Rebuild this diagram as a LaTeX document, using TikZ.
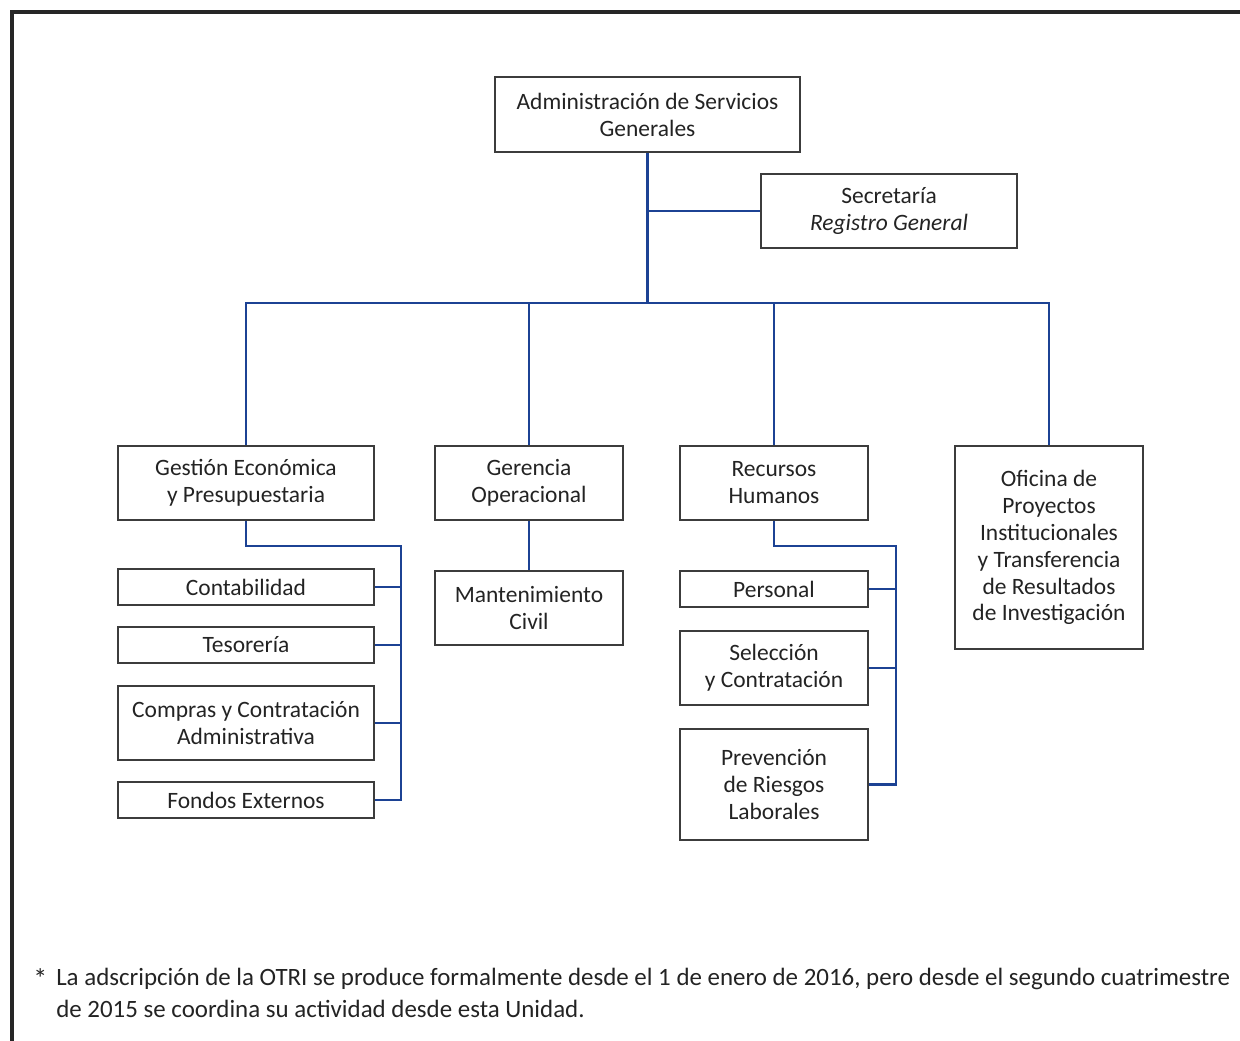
\documentclass[tikz,border=0pt]{standalone}
\usepackage{fontspec}
\setmainfont{Carlito}
\definecolor{linkblue}{RGB}{28,66,148}
\definecolor{boxgray}{RGB}{60,60,60}
\definecolor{txt}{RGB}{35,35,35}
\begin{document}
\begin{tikzpicture}[x=0.75pt,y=-0.75pt,
  box/.style={draw=boxgray,line width=1.1pt,inner sep=0pt,align=center,text=txt,
    font=\fontsize{17.6}{20.2}\selectfont},
  w256/.style={minimum width=192pt},
  w188/.style={minimum width=141pt},
  h36/.style={minimum height=27pt},
  h74/.style={minimum height=55.5pt},
  conn/.style={draw=linkblue,line width=2.2pt}]
\useasboundingbox (0,0) rectangle (1240,1040);
\draw[line width=2.3pt,color=black!85] (12,1045) -- (12,12) -- (1245,12);

\node[box,minimum width=228.75pt,minimum height=56.25pt] (asg) at (647.5,114.5) {Administración de Servicios\\Generales};
\node[box,w256,h74] (sec) at (889,211) {Secretaría\\\textit{Registro General}};

\node[box,w256,h74] (gep) at (246,483) {Gestión Económica\\y Presupuestaria};
\node[box,w188,h74] (go) at (529,483) {Gerencia\\Operacional};
\node[box,w188,h74] (rh) at (774,483) {Recursos\\Humanos};
\node[box,w188,minimum height=152.25pt] (opi) at (1049,547.5) {Oficina de\\Proyectos\\Institucionales\\y Transferencia\\de Resultados\\de Investigación};

\node[box,w256,h36] (cont) at (246,587) {Contabilidad};
\node[box,w256,h36] (tes) at (246,645) {Tesorería};
\node[box,w256,h74] (comp) at (246,723) {Compras y Contratación\\Administrativa};
\node[box,w256,h36] (fond) at (246,800) {Fondos Externos};

\node[box,w188,h74] (mant) at (529,608) {Mantenimiento\\Civil};

\node[box,w188,h36] (pers) at (774,589) {Personal};
\node[box,w188,h74] (sel) at (774,668) {Selección\\y Contratación};
\node[box,w188,minimum height=83.25pt] (prev) at (774,784.5) {Prevención\\de Riesgos\\Laborales};

\coordinate (bus) at (647.5,303);
\coordinate (gl) at (401,546);
\coordinate (rl) at (896,546);

\draw[conn] (asg.south) -- (bus);
\draw[conn] (asg.south |- sec.west) -- (sec.west);
\draw[conn] (gep.north) -- (gep.north |- bus) -- (opi.north |- bus) -- (opi.north);
\draw[conn] (go.north) -- (go.north |- bus);
\draw[conn] (rh.north) -- (rh.north |- bus);

\draw[conn] (gep.south) |- (gl) -- (gl |- fond.east) -- (fond.east);
\draw[conn] (cont.east) -- (cont.east -| gl);
\draw[conn] (tes.east) -- (tes.east -| gl);
\draw[conn] (comp.east) -- (comp.east -| gl);

\draw[conn] (go.south) -- (mant.north);

\draw[conn] (rh.south) |- (rl) -- (rl |- prev.east) -- (prev.east);
\draw[conn] (pers.east) -- (pers.east -| rl);
\draw[conn] (sel.east) -- (sel.east -| rl);

\node[anchor=north west,inner sep=0pt,text=txt,font=\fontsize{21}{24}\selectfont] (star) at (33,968) {*};
\node[anchor=north west,inner sep=0pt,text=txt,align=left,
  font=\fontsize{18.7}{24}\selectfont] (note) at (56,968)
  {La adscripción de la OTRI se produce formalmente desde el 1 de enero de 2016, pero desde el segundo cuatrimestre\\de 2015 se coordina su actividad desde esta Unidad.};
\end{tikzpicture}
\end{document}
